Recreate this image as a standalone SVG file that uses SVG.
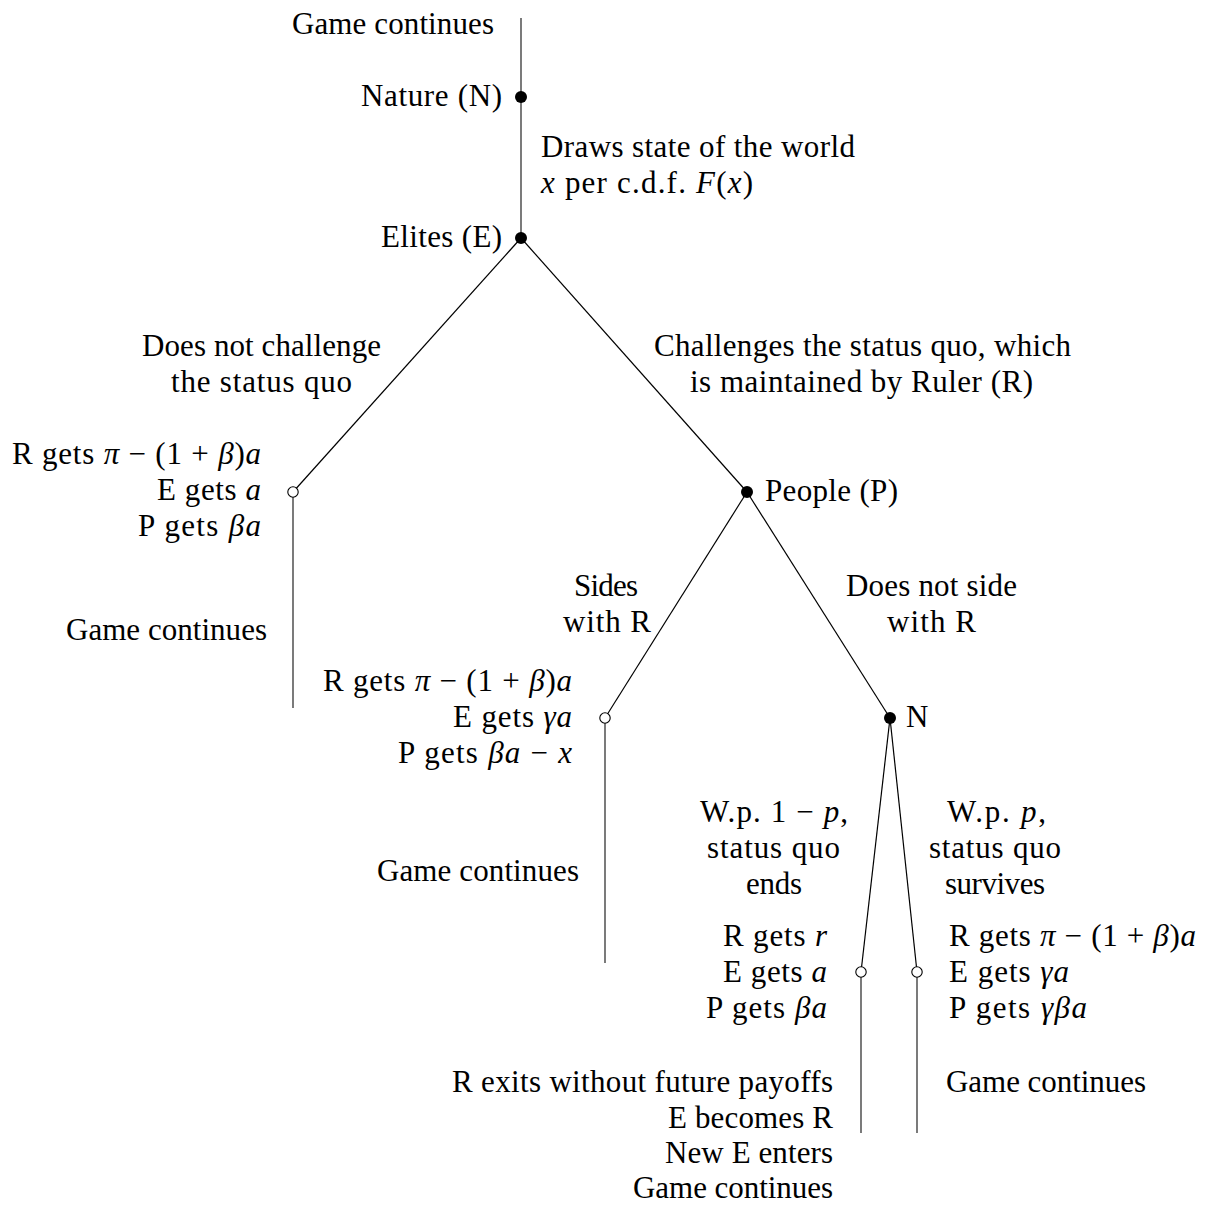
<svg xmlns="http://www.w3.org/2000/svg" width="1205" height="1205" viewBox="0 0 1205 1205">
<style>
text{font-family:"Liberation Serif","DejaVu Serif",serif;font-size:31px;fill:#000}
.i{font-style:italic}
.e{stroke:#000;stroke-width:1.2;fill:none}
.v{stroke:#333;stroke-width:1.3;fill:none}
.d{fill:#000}
.o{fill:#fff;stroke:#000;stroke-width:1.1}
</style>
<rect width="1205" height="1205" fill="#fff"/>
<g id="connectors">
<line class="v" x1="521" y1="18" x2="521" y2="238"/>
<line class="e" x1="521" y1="238" x2="293" y2="492"/>
<line class="e" x1="521" y1="238" x2="747" y2="492"/>
<line class="v" x1="293" y1="492" x2="293" y2="708"/>
<line class="e" x1="747" y1="492" x2="605" y2="718"/>
<line class="e" x1="747" y1="492" x2="890" y2="718"/>
<line class="v" x1="605" y1="718" x2="605" y2="963"/>
<line class="e" x1="890" y1="718" x2="861" y2="972"/>
<line class="e" x1="890" y1="718" x2="917" y2="972"/>
<line class="v" x1="861" y1="972" x2="861" y2="1133"/>
<line class="v" x1="917" y1="972" x2="917" y2="1133"/>
</g>
<g id="top-label"><text x="292" y="34" textLength="202" lengthAdjust="spacing">Game continues</text></g>
<g id="nature">
<circle class="d" cx="521" cy="97" r="6"/>
<text x="361" y="106" textLength="141" lengthAdjust="spacing">Nature (N)</text>
</g>
<g id="nature-move">
<text x="541" y="157" textLength="314" lengthAdjust="spacing">Draws state of the world</text>
<text x="541" y="193" textLength="212" lengthAdjust="spacing"><tspan class="i">x</tspan> per c.d.f. <tspan class="i">F</tspan>(<tspan class="i">x</tspan>)</text>
</g>
<g id="elites">
<circle class="d" cx="521" cy="238" r="6"/>
<text x="381" y="247" textLength="121" lengthAdjust="spacing">Elites (E)</text>
</g>
<g id="edge-labels-e">
<text x="142" y="356" textLength="239" lengthAdjust="spacing">Does not challenge</text>
<text x="171" y="392" textLength="181" lengthAdjust="spacing">the status quo</text>
<text x="654" y="356" textLength="417" lengthAdjust="spacing">Challenges the status quo, which</text>
<text x="690" y="392" textLength="343" lengthAdjust="spacing">is maintained by Ruler (R)</text>
</g>
<g id="terminal-1">
<circle class="o" cx="293" cy="492" r="5.2"/>
<text x="12" y="464" textLength="249" lengthAdjust="spacing">R gets <tspan class="i">π</tspan> − (1 + <tspan class="i">β</tspan>)<tspan class="i">a</tspan></text>
<text x="157" y="500" textLength="104" lengthAdjust="spacing">E gets <tspan class="i">a</tspan></text>
<text x="138" y="536" textLength="123" lengthAdjust="spacing">P gets <tspan class="i">βa</tspan></text>
<text x="66" y="640" textLength="201" lengthAdjust="spacing">Game continues</text>
</g>
<g id="people">
<circle class="d" cx="747" cy="492" r="6"/>
<text x="765" y="501" textLength="133" lengthAdjust="spacing">People (P)</text>
</g>
<g id="edge-labels-p">
<text x="574" y="596" textLength="64" lengthAdjust="spacing">Sides</text>
<text x="563" y="632" textLength="88" lengthAdjust="spacing">with R</text>
<text x="846" y="596" textLength="171" lengthAdjust="spacing">Does not side</text>
<text x="887" y="632" textLength="89" lengthAdjust="spacing">with R</text>
</g>
<g id="terminal-2">
<circle class="o" cx="605" cy="718" r="5.2"/>
<text x="323" y="691" textLength="249" lengthAdjust="spacing">R gets <tspan class="i">π</tspan> − (1 + <tspan class="i">β</tspan>)<tspan class="i">a</tspan></text>
<text x="453" y="727" textLength="119" lengthAdjust="spacing">E gets <tspan class="i">γa</tspan></text>
<text x="398" y="763" textLength="174" lengthAdjust="spacing">P gets <tspan class="i">βa</tspan> − <tspan class="i">x</tspan></text>
<text x="377" y="881" textLength="202" lengthAdjust="spacing">Game continues</text>
</g>
<g id="nature-2">
<circle class="d" cx="890" cy="718" r="6"/>
<text x="906" y="727">N</text>
</g>
<g id="edge-labels-n">
<text x="700" y="822" textLength="148" lengthAdjust="spacing">W.p. 1 − <tspan class="i">p</tspan>,</text>
<text x="707" y="858" textLength="133" lengthAdjust="spacing">status quo</text>
<text x="746" y="894" textLength="56" lengthAdjust="spacing">ends</text>
<text x="947" y="822" textLength="99" lengthAdjust="spacing">W.p. <tspan class="i">p</tspan>,</text>
<text x="929" y="858" textLength="132" lengthAdjust="spacing">status quo</text>
<text x="945" y="894" textLength="100" lengthAdjust="spacing">survives</text>
</g>
<g id="terminal-3">
<circle class="o" cx="861" cy="972" r="5.2"/>
<text x="723" y="946" textLength="104" lengthAdjust="spacing">R gets <tspan class="i">r</tspan></text>
<text x="723" y="982" textLength="104" lengthAdjust="spacing">E gets <tspan class="i">a</tspan></text>
<text x="706" y="1018" textLength="121" lengthAdjust="spacing">P gets <tspan class="i">βa</tspan></text>
<text x="452" y="1092" textLength="381" lengthAdjust="spacing">R exits without future payoffs</text>
<text x="668" y="1128" textLength="165" lengthAdjust="spacing">E becomes R</text>
<text x="665" y="1163" textLength="168" lengthAdjust="spacing">New E enters</text>
<text x="633" y="1198" textLength="200" lengthAdjust="spacing">Game continues</text>
</g>
<g id="terminal-4">
<circle class="o" cx="917" cy="972" r="5.2"/>
<text x="949" y="946" textLength="247" lengthAdjust="spacing">R gets <tspan class="i">π</tspan> − (1 + <tspan class="i">β</tspan>)<tspan class="i">a</tspan></text>
<text x="949" y="982" textLength="120" lengthAdjust="spacing">E gets <tspan class="i">γa</tspan></text>
<text x="949" y="1018" textLength="138" lengthAdjust="spacing">P gets <tspan class="i">γβa</tspan></text>
<text x="946" y="1092" textLength="200" lengthAdjust="spacing">Game continues</text>
</g>
</svg>
